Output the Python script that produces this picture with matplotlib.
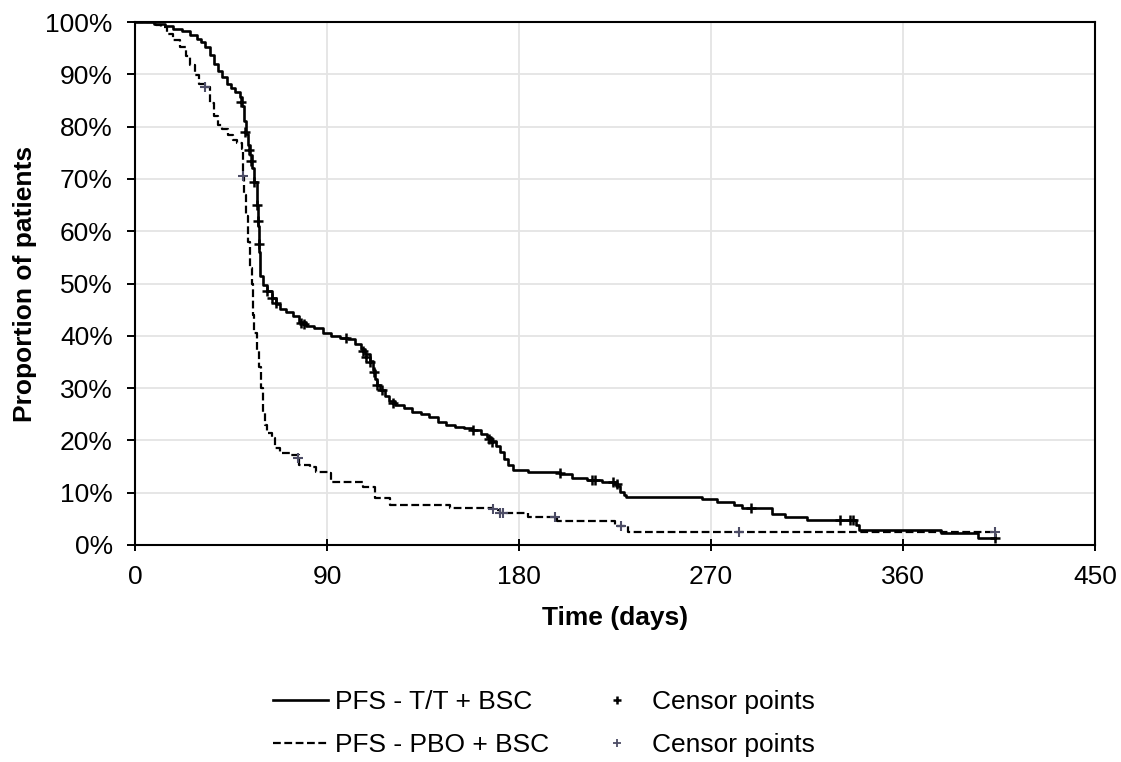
import matplotlib
matplotlib.use("Agg")
import matplotlib.pyplot as plt
from matplotlib.lines import Line2D
from matplotlib.ticker import FuncFormatter

plt.rcParams['font.family'] = ['Liberation Sans', 'DejaVu Sans']

# PFS - T/T + BSC (step knots: day, % progression free)
tt_days = [0, 9, 14, 18, 22, 26, 29, 31, 33, 35, 37, 39, 41, 43, 45, 47, 49, 50,
           51, 52, 53, 54, 55, 56, 57, 57.5, 58, 58.6, 60, 62, 64, 66, 68, 71,
           74, 77, 80, 84, 88, 92, 96, 100, 103, 106, 108, 110, 111.5, 112.5,
           113.5, 115, 117, 119, 122, 126, 130, 134, 138, 142, 146, 150, 154,
           158, 162, 165, 167, 169, 171, 173, 175, 177, 184, 199, 205, 212, 219,
           225.5, 227.5, 229, 230, 266, 273, 281, 284.5, 298.6, 304.7, 315, 338,
           339.5, 378, 395, 403]
tt_surv = [100, 99.6, 99.2, 98.6, 98.2, 97.6, 96.8, 96.2, 95.2, 93.6, 92, 90.6,
           89.4, 88.2, 87.4, 86.6, 85.6, 84, 81, 78.5, 76.5, 74.5, 72, 69.5, 65,
           61, 56, 51.5, 49.8, 48.5, 47.2, 46, 45.2, 44.5, 43.7, 42.6, 41.9, 41.4,
           40.6, 39.9, 39.6, 39.3, 38.5, 37.5, 36.5, 35.2, 33.5, 31.8, 30.6, 29.6,
           28.5, 27.6, 26.8, 26.2, 25.5, 25, 24.4, 23.6, 23, 22.6, 22.3, 22.0,
           21.3, 20.6, 19.8, 19, 17.8, 16.5, 15.2, 14.3, 14.0, 13.6, 12.8, 12.4,
           12.0, 11.2, 10.2, 9.6, 9.2, 8.8, 8.3, 7.6, 7.1, 5.9, 5.3, 4.8, 3.8,
           2.8, 2.3, 1.3, 1.3]
tt_cens_days = [49.5, 51.5, 53.5, 54.5, 56, 57, 57.5, 58, 62, 64, 66, 78, 79, 99,
                107, 108.5, 110, 112, 113.5, 116, 121, 158.5, 166, 167.5, 199,
                214, 215.5, 224, 226, 288.6, 330.5, 335, 336.6, 403]
tt_cens_surv = [84.8, 79, 75.5, 73.5, 69.5, 65, 62, 57.5, 48.5, 47.2, 46.3, 42.5,
                42.2, 39.5, 37, 36, 35, 33, 30.5, 29.6, 27.2, 22, 20.3, 19.7,
                13.7, 12.4, 12.4, 12, 11.6, 7.1, 4.8, 4.8, 4.8, 1.3]

# PFS - PBO + BSC
pbo_days = [0, 10, 12, 15, 18, 21, 24, 26, 28, 30, 33, 35, 37, 39, 41, 43.6, 46,
            48, 50, 50.5, 51, 52, 53, 54, 54.7, 55.5, 56, 57, 58, 59, 60, 61, 62,
            64, 65.6, 68, 72.6, 77, 82, 85, 90.5, 92, 107, 112.5, 119.5, 147.7,
            168, 171, 184, 198, 225, 231, 403]
pbo_surv = [100, 99.5, 99, 97.8, 96.5, 95.2, 93.5, 91.8, 89.8, 88.2, 87.5, 84.5,
            82, 80.3, 79.5, 78.4, 77.5, 76.8, 75.8, 70.5, 67, 63, 58, 53, 50, 44,
            40.5, 37, 34, 30, 25.5, 23, 21.5, 20.4, 18.5, 17.6, 17.2, 15.3, 14.9,
            14, 13.8, 12, 11.1, 9, 7.6, 7.1, 6.6, 6.1, 5.4, 4.6, 3.6, 2.4, 2.4]
pbo_cens_days = [0, 33, 50.5, 76.5, 168, 171, 172.5, 197, 228, 283, 403]
pbo_cens_surv = [100, 87.5, 70.5, 16.6, 6.8, 6.2, 6.1, 5.4, 3.6, 2.4, 2.5]

x_ticks = [0, 90, 180, 270, 360, 450]
y_ticks = [0, 10, 20, 30, 40, 50, 60, 70, 80, 90, 100]

cens_grey = '#4d4d66'
fs = 19

fig = plt.figure(figsize=(11.21, 7.62), dpi=100)
ax = fig.add_axes([0.1204, 0.2848, 0.8564, 0.6863])

ax.plot(tt_days, tt_surv, drawstyle='steps-post', color='black', lw=1.9)
ax.plot(pbo_days, pbo_surv, drawstyle='steps-post', color='black', lw=1.6,
        dashes=(3.5, 1.6))
ax.plot(tt_cens_days, tt_cens_surv, ls='none', marker='+', ms=7, mew=1.8,
        color='black')
ax.plot(pbo_cens_days, pbo_cens_surv, ls='none', marker='+', ms=7, mew=1.5,
        color=cens_grey)

ax.set_xlim(0, 450)
ax.set_ylim(0, 100)
ax.set_xticks(x_ticks)
ax.set_yticks(y_ticks)
ax.yaxis.set_major_formatter(FuncFormatter(lambda v, p: f'{v:.0f}%'))
ax.grid(True, color='#e4e4e4', lw=1.3)
ax.set_axisbelow(True)
for s in ax.spines.values():
    s.set_linewidth(1.5)
ax.tick_params(axis='x', direction='inout', length=9, width=1.4, labelsize=fs,
               pad=10)
ax.tick_params(axis='y', direction='out', length=6, width=1.4, labelsize=fs,
               pad=10)

ax.set_xlabel('Time (days)', fontsize=fs, fontweight='bold', labelpad=12)
ax.set_ylabel('Proportion of patients', fontsize=fs, fontweight='bold',
              labelpad=6)

handles = [
    Line2D([], [], color='black', lw=1.9),
    Line2D([], [], color='black', lw=1.6, dashes=(3.5, 1.6)),
    Line2D([], [], ls='none', marker='+', ms=6, mew=1.8, color='black'),
    Line2D([], [], ls='none', marker='+', ms=6, mew=1.3, color=cens_grey),
]
labels = ['PFS - T/T + BSC', 'PFS - PBO + BSC', 'Censor points', 'Censor points']
fig.legend(handles, labels, ncol=2, loc='center', bbox_to_anchor=(0.485, 0.05),
           frameon=False, fontsize=fs, handlelength=2.1, handletextpad=0.27,
           columnspacing=1.5, labelspacing=0.72)

fig.savefig('out.png', dpi=100)
